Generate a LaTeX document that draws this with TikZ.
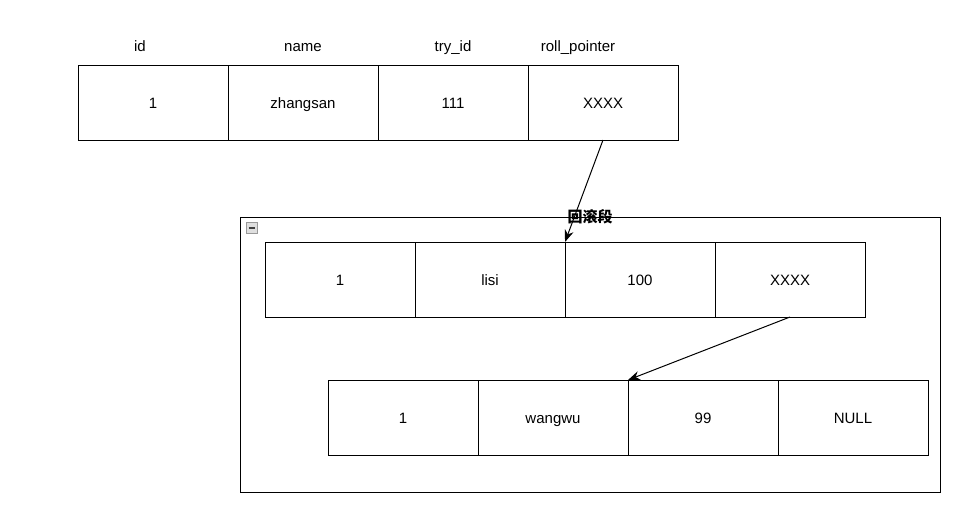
\documentclass[tikz,border=0pt]{standalone}
\usepackage{fontspec}
\setmainfont{Liberation Sans}
\newfontfamily\cjk{Noto Sans CJK SC}
\usepackage{tikz}
\usetikzlibrary{arrows.meta, positioning}

\begin{document}
\begin{tikzpicture}[x=1pt, y=-1pt, >={Stealth[length=12pt, width=9pt]}, line width=1pt,
    font=\fontsize{15}{17}\selectfont,
    cell/.style={draw, rectangle, minimum width=150pt, minimum height=75pt, inner sep=0pt, outer sep=0pt,
      text height=12.7pt, text depth=0pt},
    header/.style={inner sep=0pt, text height=10.7pt, text depth=0pt}]
  \useasboundingbox (0,0) rectangle (976,528);

  % Current row
  \node[cell] (r1c1) at (153,102.5) {1};
  \node[cell, right=0pt of r1c1] (r1c2) {zhangsan};
  \node[cell, right=0pt of r1c2] (r1c3) {111};
  \node[cell, right=0pt of r1c3] (r1c4) {XXXX};

  % Column headers
  \node[header] (h1) at (140,46) {id};
  \node[header] (h2) at (303,46) {name};
  \node[header] (h3) at (453,46) {try\_id};
  \node[header] (h4) at (578,46) {roll\_pointer};

  % Rollback segment container
  \draw (240,217) rectangle (940,492);
  \node[font=\cjk\bfseries\fontsize{15}{17}\selectfont, inner sep=0pt] (seg) at (590,217) {回滚段};
  \draw[line width=0.8pt, draw=gray!80, fill=gray!25] (246,222) rectangle (257,233);
  \draw[line width=2pt, black!75] (248.5,227.5) -- (254.5,227.5);

  % Older versions
  \node[cell] (r2c1) at (340,279.5) {1};
  \node[cell, right=0pt of r2c1] (r2c2) {lisi};
  \node[cell, right=0pt of r2c2] (r2c3) {100};
  \node[cell, right=0pt of r2c3] (r2c4) {XXXX};

  \node[cell] (r3c1) at (403,417.5) {1};
  \node[cell, right=0pt of r3c1] (r3c2) {wangwu};
  \node[cell, right=0pt of r3c2] (r3c3) {99};
  \node[cell, right=0pt of r3c3] (r3c4) {NULL};

  % Version chain
  \draw[->] (r1c4.south) -- (r2c3.north west);
  \draw[->] (r2c4.south) -- (r3c3.north west);
\end{tikzpicture}
\end{document}
